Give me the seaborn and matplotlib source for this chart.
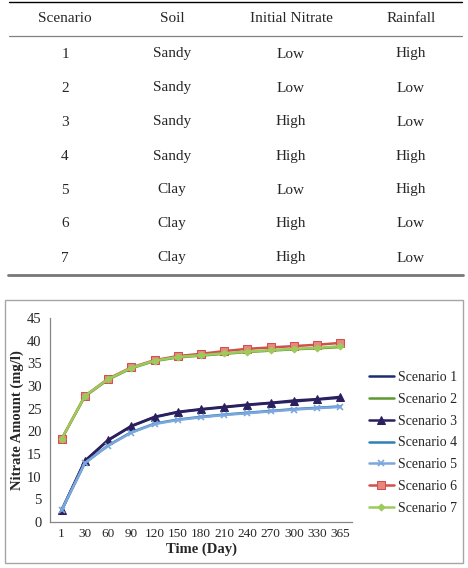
import numpy as np
import pandas as pd
import matplotlib
matplotlib.use("Agg")
import matplotlib.pyplot as plt
from matplotlib.lines import Line2D
from matplotlib.patches import Rectangle
import seaborn as sns

sns.set_style("white")
plt.rcParams["font.family"] = ["Liberation Serif", "DejaVu Serif"]

# table data
table_header = ["Scenario", "Soil", "Initial Nitrate", "Rainfall"]
scenario_ids = ["1", "2", "3", "4", "5", "6", "7"]
soil = ["Sandy", "Sandy", "Sandy", "Sandy", "Clay", "Clay", "Clay"]
initial_nitrate = ["Low", "Low", "High", "High", "Low", "High", "High"]
rainfall = ["High", "Low", "Low", "High", "High", "Low", "Low"]

# chart data
days = ["1", "30", "60", "90", "120", "150", "180", "210", "240", "270", "300", "330", "365"]
s1 = [2.6, 13.4, 18.0, 21.1, 23.1, 24.2, 24.8, 25.3, 25.8, 26.2, 26.6, 27.0, 27.4]
s2 = [18.3, 27.7, 31.4, 33.9, 35.5, 36.3, 36.7, 37.1, 37.5, 37.8, 38.1, 38.3, 38.6]
s3 = [2.6, 13.5, 18.1, 21.2, 23.2, 24.3, 24.9, 25.4, 25.9, 26.3, 26.8, 27.1, 27.6]
s4 = [2.6, 13.0, 16.9, 19.8, 21.7, 22.6, 23.2, 23.7, 24.1, 24.5, 24.9, 25.2, 25.5]
s5 = [2.6, 13.0, 16.8, 19.7, 21.6, 22.5, 23.1, 23.6, 24.0, 24.4, 24.8, 25.1, 25.4]
s6 = [18.3, 27.8, 31.6, 34.1, 35.7, 36.6, 37.1, 37.7, 38.2, 38.5, 38.8, 39.1, 39.5]
s7 = [18.3, 27.8, 31.5, 34.0, 35.6, 36.4, 36.8, 37.2, 37.6, 37.9, 38.2, 38.4, 38.8]

series = {
    "Scenario 1": (s1, "#1C2E6E", None, {}),
    "Scenario 2": (s2, "#5A9A2E", None, {}),
    "Scenario 3": (s3, "#2C1F5E", "^", dict(markersize=6, markerfacecolor="#2C1F5E", markeredgecolor="#2C1F5E")),
    "Scenario 4": (s4, "#2F80B5", None, {}),
    "Scenario 5": (s5, "#7BA7DC", "x", dict(markersize=5, markeredgecolor="#7BA7DC", markeredgewidth=1.2)),
    "Scenario 6": (s6, "#D0504D", "s", dict(markersize=5.5, markerfacecolor="#E9877E", markeredgecolor="#D0504D")),
    "Scenario 7": (s7, "#9BCB5B", "D", dict(markersize=3.5, markerfacecolor="#9BCB5B", markeredgecolor="#9BCB5B")),
}

W, H = 468, 568
fig = plt.figure(figsize=(W / 100, H / 100), dpi=100)

def fx(x): return x / W
def fy(y): return 1 - y / H

# ---- table ----
fig.add_artist(Line2D([fx(9), fx(462)], [fy(2), fy(2)], color="black", lw=1.0))
fig.add_artist(Line2D([fx(9), fx(462)], [fy(36), fy(36)], color="#808080", lw=0.9))
fig.add_artist(Line2D([fx(8), fx(463)], [fy(275), fy(275)], color="#777777", lw=2.0))
col_x = [65, 172, 291, 411]
for cx, h in zip(col_x, table_header):
    fig.text(fx(cx), fy(19), h, ha="center", va="center", fontsize=11)
row_y = [54, 88, 122, 156, 190, 224, 258]
for i, ry in enumerate(row_y):
    for cx, v in zip(col_x, [scenario_ids[i], soil[i], initial_nitrate[i], rainfall[i]]):
        fig.text(fx(cx), fy(ry), v, ha="center", va="center", fontsize=11)

# ---- chart frame ----
fig.add_artist(Rectangle((fx(5), fy(563)), fx(463) - fx(5), fy(300) - fy(563),
                         fill=False, edgecolor="#A6A6A6", lw=1.0))

ax = fig.add_axes([fx(50), fy(522), fx(352) - fx(50), fy(318) - fy(522)])
for name, (vals, color, marker, kw) in series.items():
    sns.lineplot(x=days, y=vals, ax=ax, color=color, lw=1.8, marker=marker,
                 label=name, sort=False, **kw)

ax.set_xlim(-0.5, len(days) - 0.5)
ax.set_ylim(0, 45)
ax.set_yticks(np.arange(0, 46, 5))
ax.set_xticks(range(len(days)))
ax.set_xticklabels(days)
ax.set_xticks(np.arange(-0.5, len(days), 1), minor=True)
ax.tick_params(axis="x", which="major", length=0, labelsize=9.5, pad=4)
ax.tick_params(axis="x", which="minor", length=4, width=0.8, color="#868686", direction="out")
ax.tick_params(axis="y", length=4, width=0.8, color="#868686", direction="out", labelsize=10.5, pad=2)
for s in ["top", "right"]:
    ax.spines[s].set_visible(False)
for s in ["left", "bottom"]:
    ax.spines[s].set_color("#868686")
    ax.spines[s].set_linewidth(0.9)
ax.set_xlabel("Time (Day)", fontsize=10.5, fontweight="bold", labelpad=2)
ax.set_ylabel("Nitrate Amount (mg/l)", fontsize=10.5, fontweight="bold", labelpad=2)

handles, labels = ax.get_legend_handles_labels()
ax.legend(handles, labels, loc="center left", bbox_to_anchor=(fx(362), fy(443)),
          bbox_transform=fig.transFigure, frameon=False, fontsize=10,
          handlelength=1.8, handletextpad=0.3, labelspacing=0.63, borderpad=0)

fig.savefig("out.png", dpi=100)
